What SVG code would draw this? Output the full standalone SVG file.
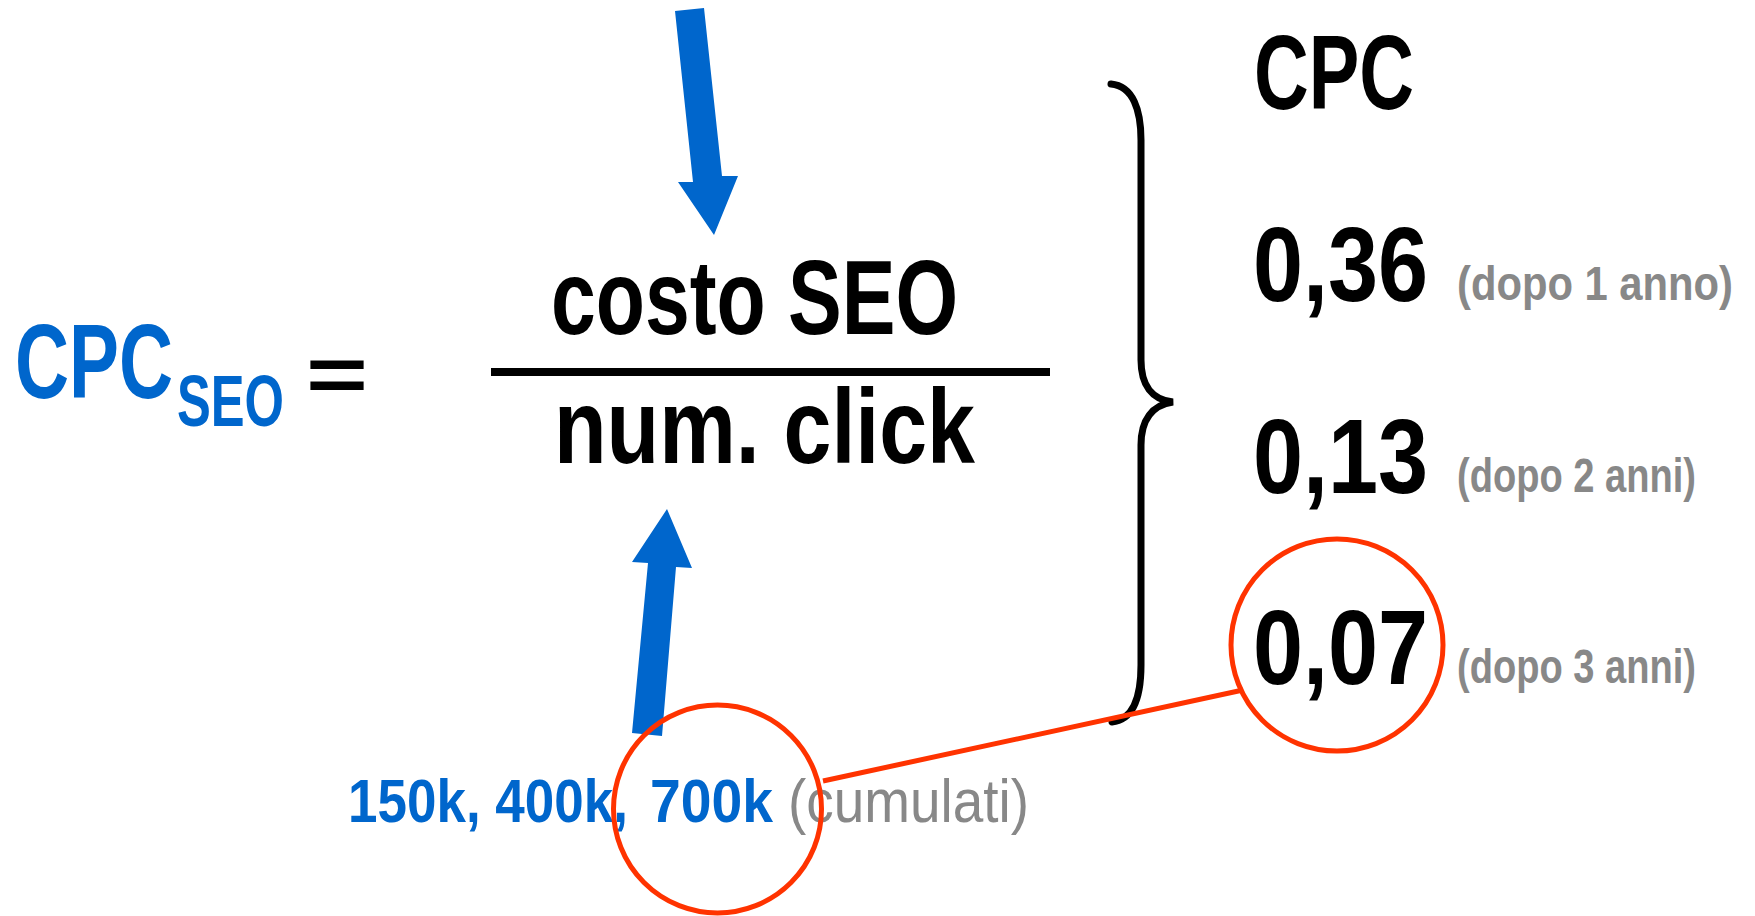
<svg xmlns="http://www.w3.org/2000/svg" width="1755" height="916" viewBox="0 0 1755 916">
<style>
text{font-family:"Liberation Sans",Arial,sans-serif;}
.b{font-weight:bold;}
.blue{fill:#0066CC;}
.blk{fill:#000;}
.gray{fill:#888888;}
.big{font-size:106px;}
.note{font-size:48px;font-weight:bold;fill:#888888;}
.red{fill:none;stroke:#FF3300;stroke-width:5;}
</style>
<rect width="1755" height="916" fill="#fff"/>
<g id="formula-left">
<text class="b blue big" x="15" y="398" textLength="158" lengthAdjust="spacingAndGlyphs">CPC</text>
<text class="b blue" x="177" y="426" font-size="72" textLength="107" lengthAdjust="spacingAndGlyphs">SEO</text>
<text class="b blk" x="306" y="401" font-size="78" textLength="62" lengthAdjust="spacingAndGlyphs">=</text>
</g>
<g id="fraction">
<text class="b blk big" x="551" y="334" textLength="407" lengthAdjust="spacingAndGlyphs">costo SEO</text>
<rect x="491" y="368" width="559" height="8" fill="#000"/>
<text class="b blk big" x="554" y="463" textLength="421" lengthAdjust="spacingAndGlyphs">num. click</text>
</g>
<g id="clicks">
<text class="b blue" x="348" y="822" font-size="62" textLength="280" lengthAdjust="spacingAndGlyphs">150k, 400k,</text>
<text class="b blue" x="650" y="822" font-size="62" textLength="123" lengthAdjust="spacingAndGlyphs">700k</text>
<text class="gray" x="788" y="822" font-size="62" textLength="241" lengthAdjust="spacingAndGlyphs">(cumulati)</text>
</g>
<g id="cpc-values">
<text class="b blk big" x="1254" y="109" textLength="160" lengthAdjust="spacingAndGlyphs">CPC</text>
<text class="b blk big" x="1253" y="301" textLength="175" lengthAdjust="spacingAndGlyphs">0,36</text>
<text class="note" x="1457" y="300" textLength="276" lengthAdjust="spacingAndGlyphs">(dopo 1 anno)</text>
<text class="b blk big" x="1253" y="493" textLength="175" lengthAdjust="spacingAndGlyphs">0,13</text>
<text class="note" x="1457" y="492" textLength="239" lengthAdjust="spacingAndGlyphs">(dopo 2 anni)</text>
<text class="b blk big" x="1253" y="684" textLength="175" lengthAdjust="spacingAndGlyphs">0,07</text>
<text class="note" x="1457" y="683" textLength="239" lengthAdjust="spacingAndGlyphs">(dopo 3 anni)</text>
</g>
<g id="connectors">
<polygon class="blue" points="675,11 704,8 722,176 738,176 714,235 678,182 693,182"/>
<polygon class="blue" points="667,509 692,568 676,567 662,736 632,733 648,563 632,562"/>
<path d="M1111,84 C1133,86 1141,110 1141,140 L1141,360 C1141,385 1152,400 1173,402 C1152,405 1141,420 1141,445 L1141,665 C1141,700 1132,720 1112,722" fill="none" stroke="#000" stroke-width="7" stroke-linecap="round"/>
<line class="red" x1="823" y1="781" x2="1243" y2="690"/>
<circle class="red" cx="717.5" cy="809" r="104"/>
<circle class="red" cx="1337" cy="645" r="106"/>
</g>
</svg>
